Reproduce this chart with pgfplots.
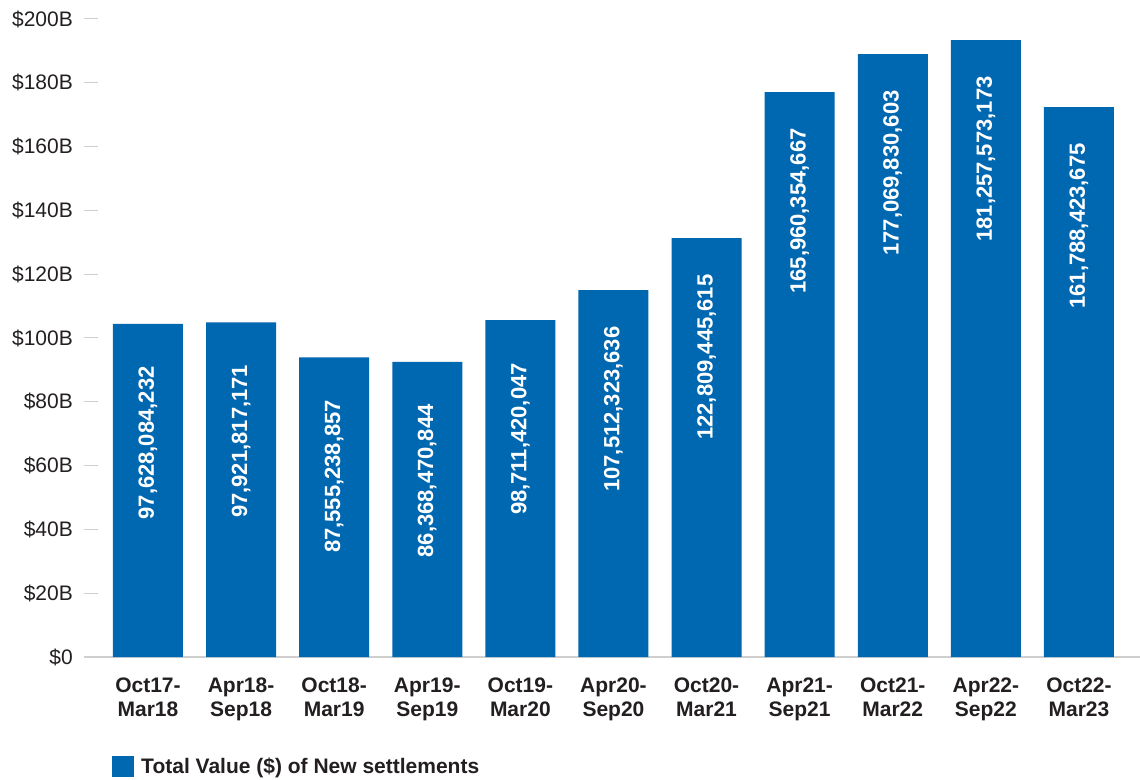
\documentclass[border=0pt]{standalone}
\usepackage{fontspec}
\setmainfont{Liberation Sans}
\usepackage{pgfplots}
\pgfplotsset{compat=1.18}
\usepackage{pgfplotstable}
\definecolor{barblue}{HTML}{0067B1}
\definecolor{txt}{HTML}{231F20}
\definecolor{linegray}{HTML}{CFCFCF}
\pgfplotstableread{
x y label
0 104.4 97,628,084,232
1 104.9 97,921,817,171
2 93.9 87,555,238,857
3 92.5 86,368,470,844
4 105.6 98,711,420,047
5 115.0 107,512,323,636
6 131.3 122,809,445,615
7 177.1 165,960,354,667
8 189.0 177,069,830,603
9 193.4 181,257,573,173
10 172.4 161,788,423,675
}\datatable
\begin{document}
\begin{tikzpicture}
\useasboundingbox (0,0) rectangle (1140pt,779pt);
\begin{axis}[
  at={(84pt,122pt)}, anchor=south west,
  scale only axis, width=1056pt, height=638pt,
  xmin=-0.687, xmax=10.656, ymin=0, ymax=200,
  clip=false,
  axis x line*=bottom, axis y line*=left,
  x axis line style={draw=linegray, line width=2.5pt, -},
  y axis line style={draw=none},
  ytick={0,20,...,200},
  yticklabels={\$0,\$20B,\$40B,\$60B,\$80B,\$100B,\$120B,\$140B,\$160B,\$180B,\$200B},
  xtick={0,...,10},
  xticklabels={{Oct17-\\Mar18},{Apr18-\\Sep18},{Oct18-\\Mar19},{Apr19-\\Sep19},{Oct19-\\Mar20},{Apr20-\\Sep20},{Oct20-\\Mar21},{Apr21-\\Sep21},{Oct21-\\Mar22},{Apr22-\\Sep22},{Oct22-\\Mar23}},
  xtick style={draw=none},
  ytick style={draw=linegray, line width=1pt},
  major tick length=14pt, tick align=inside,
  yticklabel style={font=\fontsize{21}{24}\selectfont, text=txt, anchor=east, inner sep=0pt, xshift=-11pt},
  xticklabel style={font=\fontsize{21}{24}\selectfont\bfseries, text=txt, align=center, anchor=north, inner sep=0pt, yshift=-21pt},
  legend style={at={(axis description cs:0.0237,-0.171)}, anchor=west, draw=none, fill=none,
    font=\fontsize{21}{24}\selectfont\bfseries, text=txt, nodes={inner sep=0pt}, column sep=7pt},
  legend cell align=left,
]
\addplot[ybar, bar width=70pt, fill=barblue, draw=none,
  point meta=explicit symbolic,
  nodes near coords,
  every node near coord/.append style={font=\fontsize{22}{22}\selectfont\bfseries, text=white, anchor=center, yshift=-119pt, rotate=90},
  legend image code/.code={\fill[barblue] (0pt,-10.5pt) rectangle (22pt,10.5pt);}
] table[x=x, y=y, meta=label] {\datatable};
\addlegendentry{Total Value (\$) of New settlements}
\end{axis}
\end{tikzpicture}
\end{document}
